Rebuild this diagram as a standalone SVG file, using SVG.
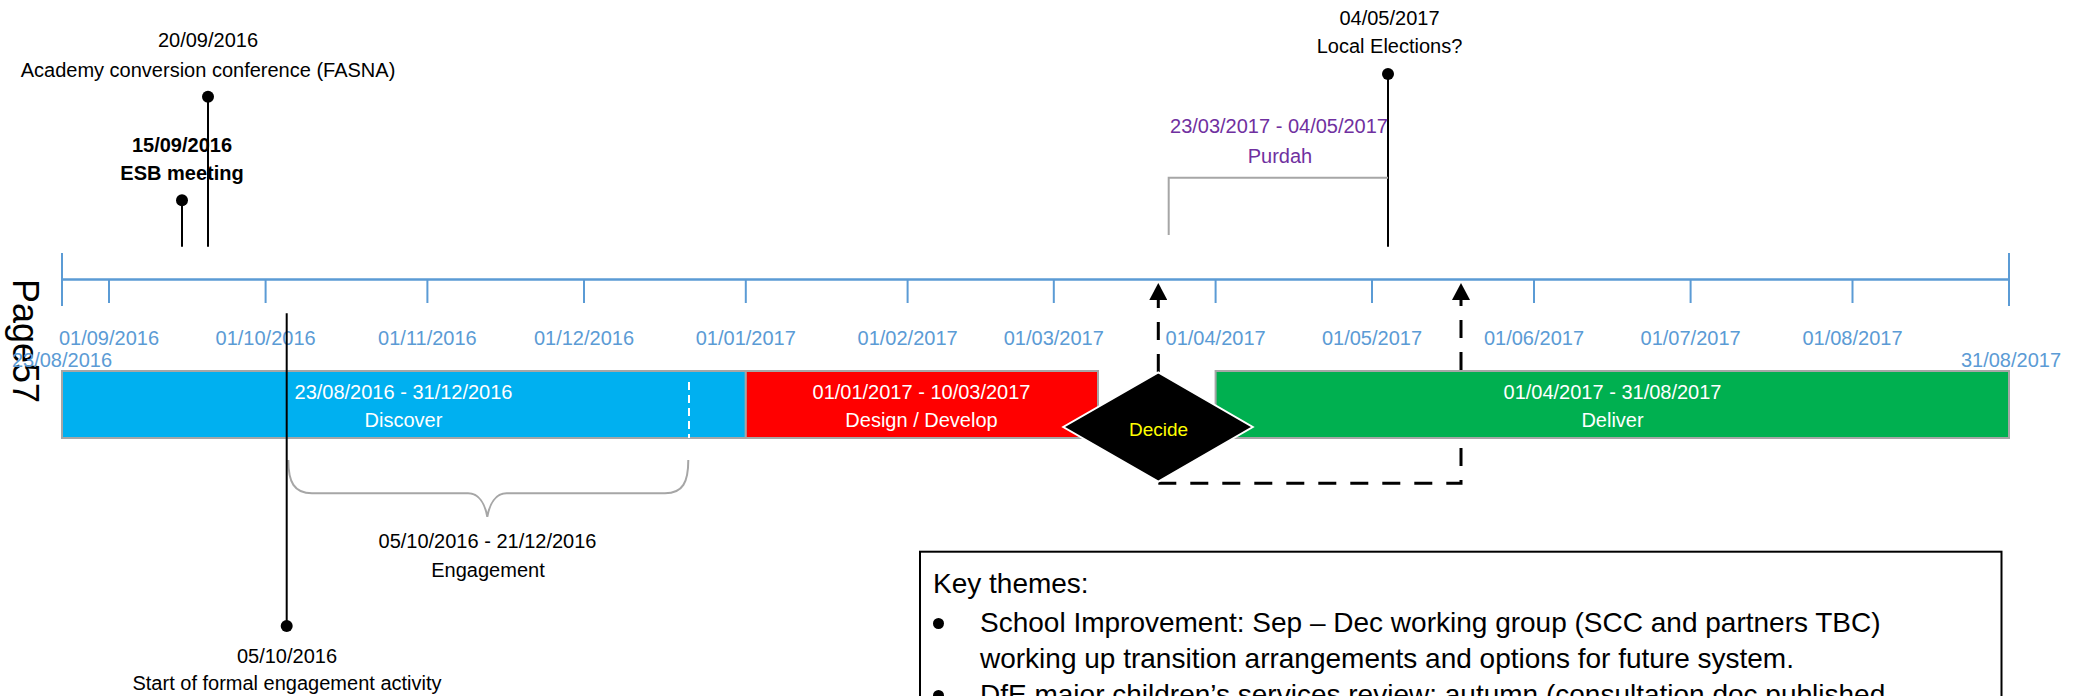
<svg xmlns="http://www.w3.org/2000/svg" width="2085" height="696" viewBox="0 0 2085 696">
<style>
text{font-family:"Liberation Sans",Arial,sans-serif;}
.tick{stroke:#5B9BD5;stroke-width:2;fill:none;}
.axis{stroke:#5B9BD5;stroke-width:2.5;fill:none;}
.tl{fill:#5B9BD5;font-size:20px;text-anchor:middle;}
.lbl{fill:#000;font-size:20px;text-anchor:middle;}
.bold{font-weight:bold;}
.bar{stroke:#A6A6A6;stroke-width:2;}
.bt{fill:#fff;font-size:20px;text-anchor:middle;}
.ms{stroke:#000;stroke-width:2;fill:none;}
.dot{fill:#000;}
.gray{stroke:#A6A6A6;stroke-width:2;fill:none;}
.purple{fill:#7030A0;font-size:20px;text-anchor:middle;}
.conn{stroke:#000;stroke-width:3;fill:none;stroke-dasharray:18 14;}
.kt{fill:#000;font-size:28px;}
</style>
<defs>
<marker id="arr" viewBox="0 0 17 18" refX="0" refY="9" markerWidth="17" markerHeight="18" markerUnits="userSpaceOnUse" orient="auto">
<path d="M0,0 L17,9 L0,18 z" fill="#000"/>
</marker>
</defs>

<text transform="translate(13,279) rotate(90)" font-size="36" fill="#000">Page57</text>

<g id="axis">
<line class="axis" x1="62" y1="279.5" x2="2009" y2="279.5"/>
<line class="tick" x1="62" y1="253" x2="62" y2="306"/>
<line class="tick" x1="2009" y1="253" x2="2009" y2="306"/>
<line class="tick" x1="109" y1="280" x2="109" y2="303"/>
<line class="tick" x1="265.6" y1="280" x2="265.6" y2="303"/>
<line class="tick" x1="427.4" y1="280" x2="427.4" y2="303"/>
<line class="tick" x1="584" y1="280" x2="584" y2="303"/>
<line class="tick" x1="745.8" y1="280" x2="745.8" y2="303"/>
<line class="tick" x1="907.6" y1="280" x2="907.6" y2="303"/>
<line class="tick" x1="1053.8" y1="280" x2="1053.8" y2="303"/>
<line class="tick" x1="1215.6" y1="280" x2="1215.6" y2="303"/>
<line class="tick" x1="1372" y1="280" x2="1372" y2="303"/>
<line class="tick" x1="1534" y1="280" x2="1534" y2="303"/>
<line class="tick" x1="1690.6" y1="280" x2="1690.6" y2="303"/>
<line class="tick" x1="1852.5" y1="280" x2="1852.5" y2="303"/>
<text class="tl" x="109" y="345">01/09/2016</text>
<text class="tl" x="265.6" y="345">01/10/2016</text>
<text class="tl" x="427.4" y="345">01/11/2016</text>
<text class="tl" x="584" y="345">01/12/2016</text>
<text class="tl" x="745.8" y="345">01/01/2017</text>
<text class="tl" x="907.6" y="345">01/02/2017</text>
<text class="tl" x="1053.8" y="345">01/03/2017</text>
<text class="tl" x="1215.6" y="345">01/04/2017</text>
<text class="tl" x="1372" y="345">01/05/2017</text>
<text class="tl" x="1534" y="345">01/06/2017</text>
<text class="tl" x="1690.6" y="345">01/07/2017</text>
<text class="tl" x="1852.5" y="345">01/08/2017</text>
<text class="tl" x="62" y="367">23/08/2016</text>
<text class="tl" x="2011" y="367">31/08/2017</text>
</g>

<g id="connectors">
<path class="conn" d="M1158.3,372 V300" marker-end="url(#arr)"/>
<path class="conn" d="M1158.3,483.3 H1461 V300" marker-end="url(#arr)"/>
</g>

<g id="discover">
<rect class="bar" x="62" y="371" width="683.8" height="67" fill="#00B0F0"/>
<line x1="689" y1="382" x2="689" y2="438" stroke="#fff" stroke-width="2" stroke-dasharray="8 5"/>
<text class="bt" x="403.5" y="399">23/08/2016 - 31/12/2016</text>
<text class="bt" x="403.5" y="427">Discover</text>
</g>

<g id="design">
<rect class="bar" x="745.8" y="371" width="352.2" height="67" fill="#FF0000"/>
<text class="bt" x="921.5" y="399">01/01/2017 - 10/03/2017</text>
<text class="bt" x="921.5" y="427">Design / Develop</text>
</g>

<g id="deliver">
<rect class="bar" x="1215.6" y="371" width="793.4" height="67" fill="#00B050"/>
<text class="bt" x="1612.5" y="399">01/04/2017 - 31/08/2017</text>
<text class="bt" x="1612.5" y="427">Deliver</text>
</g>

<g id="decide">
<polygon points="1158.3,372.3 1252.7,427 1158.3,481.7 1063.3,427" fill="#000" stroke="#fff" stroke-width="2"/>
<text x="1158.5" y="435.5" font-size="19" fill="#FFFF00" text-anchor="middle">Decide</text>
</g>

<g id="esb">
<line class="ms" x1="182" y1="246.7" x2="182" y2="200"/>
<circle class="dot" cx="182" cy="200.3" r="6"/>
<text class="lbl bold" x="182" y="151.7">15/09/2016</text>
<text class="lbl bold" x="182" y="179.5">ESB meeting</text>
</g>

<g id="fasna">
<line class="ms" x1="208" y1="246.7" x2="208" y2="97"/>
<circle class="dot" cx="208" cy="96.7" r="6"/>
<text class="lbl" x="208" y="46.7">20/09/2016</text>
<text class="lbl" x="208" y="76.5" font-size="19">Academy conversion conference (FASNA)</text>
</g>

<g id="elections">
<line class="ms" x1="1388" y1="246.7" x2="1388" y2="74"/>
<circle class="dot" cx="1388" cy="74" r="6"/>
<text class="lbl" x="1389.5" y="25">04/05/2017</text>
<text class="lbl" x="1389.5" y="53">Local Elections?</text>
</g>

<g id="purdah">
<path class="gray" d="M1168.7,235 V177.7 H1388"/>
<text class="purple" x="1279" y="133">23/03/2017 - 04/05/2017</text>
<text class="purple" x="1280" y="162.5">Purdah</text>
</g>

<g id="engagement">
<path class="gray" d="M288.3,460 C288.3,482 294,493.3 312,493.3 H468 C479,493.3 485,504 487.3,516.7 C489.6,504 495.6,493.3 506.7,493.3 H665 C683,493.3 688.3,482 688.3,460"/>
<text class="lbl" x="487.5" y="547.5">05/10/2016 - 21/12/2016</text>
<text class="lbl" x="488" y="576.5">Engagement</text>
</g>

<g id="formal">
<line class="ms" x1="286.7" y1="313.3" x2="286.7" y2="626"/>
<circle class="dot" cx="286.7" cy="626" r="6"/>
<text class="lbl" x="287" y="663">05/10/2016</text>
<text class="lbl" x="287" y="690">Start of formal engagement activity</text>
</g>

<g id="keythemes">
<rect x="920" y="551.7" width="1081.5" height="200" fill="#fff" stroke="#000" stroke-width="2"/>
<text class="kt" x="933" y="592.7">Key themes:</text>
<circle cx="938.5" cy="623.5" r="5.5" fill="#000"/>
<text class="kt" x="980" y="631.7">School Improvement: Sep – Dec working group (SCC and partners TBC)</text>
<text class="kt" x="980" y="667.7">working up transition arrangements and options for future system.</text>
<circle cx="938.5" cy="695.5" r="5.5" fill="#000"/>
<text class="kt" x="980" y="703.7">DfE major children’s services review: autumn (consultation doc published</text>
</g>
</svg>
